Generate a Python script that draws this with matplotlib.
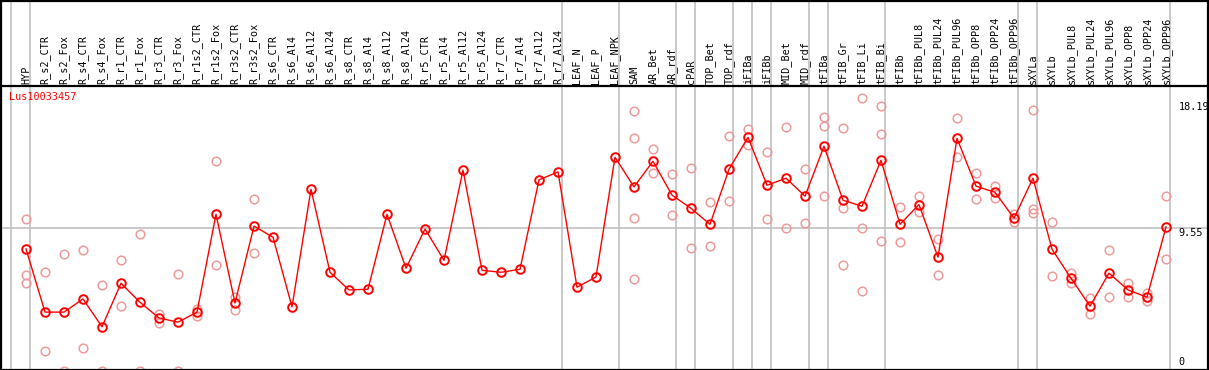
import numpy as np
import matplotlib
matplotlib.use('Agg')
import matplotlib.pyplot as plt
from matplotlib.transforms import blended_transform_factory

# sample names, one column each
samples = ['HYP', 'R_s2_CTR', 'R_s2_Fox', 'R_s4_CTR', 'R_s4_Fox', 'R_r1_CTR', 'R_r1_Fox',
           'R_r3_CTR', 'R_r3_Fox', 'R_r1s2_CTR', 'R_r1s2_Fox', 'R_r3s2_CTR', 'R_r3s2_Fox',
           'R_s6_CTR', 'R_s6_Al4', 'R_s6_Al12', 'R_s6_Al24', 'R_s8_CTR', 'R_s8_Al4',
           'R_s8_Al12', 'R_s8_Al24', 'R_r5_CTR', 'R_r5_Al4', 'R_r5_Al12', 'R_r5_Al24',
           'R_r7_CTR', 'R_r7_Al4', 'R_r7_Al12', 'R_r7_Al24', 'LEAF_N', 'LEAF_P', 'LEAF_NPK',
           'SAM', 'AR_Bet', 'AR_rdf', 'cPAR', 'TOP_Bet', 'TOP_rdf', 'iFIBa', 'iFIBb',
           'MID_Bet', 'MID_rdf', 'tFIBa', 'tFIB_Gr', 'tFIB_Li', 'tFIB_Bi', 'tFIBb',
           'tFIBb_PUL8', 'tFIBb_PUL24', 'tFIBb_PUL96', 'tFIBb_OPP8', 'tFIBb_OPP24',
           'tFIBb_OPP96', 'sXYLa', 'sXYLb', 'sXYLb_PUL8', 'sXYLb_PUL24', 'sXYLb_PUL96',
           'sXYLb_OPP8', 'sXYLb_OPP24', 'sXYLb_OPP96']

# mean expression per sample
means = [8.13, 3.91, 3.91, 4.79, 2.93, 5.84, 4.57, 3.52, 3.24, 3.91, 10.44, 4.52, 9.65,
         8.91, 4.26, 12.11, 6.57, 5.39, 5.44, 10.44, 6.84, 9.46, 7.37, 13.39, 6.70,
         6.57, 6.77, 12.74, 13.27, 5.57, 6.26, 14.25,
         12.27, 13.98, 11.72, 10.84, 9.77, 13.45, 15.58, 12.38,
         12.85, 11.65, 14.98, 11.38, 10.98, 14.05, 9.77,
         11.09, 7.58, 15.51, 12.32, 11.91, 10.18, 12.85, 8.11,
         6.17, 4.31, 6.51, 5.39, 4.91, 9.60]

# individual replicates (only where they differ from the mean)
replicates = [
    [10.11, 6.37, 5.84], [6.57, 1.29], [7.77, 0.0], [8.04, 1.52], [5.70, 0.0],
    [7.37, 4.31], [9.11, 0.0], [3.81, 3.21], [6.44, 0.0], [4.14, 3.67],
    [14.00, 7.04], [4.91, 4.07], [11.46, 7.84],
    [], [], [], [], [], [], [], [], [], [], [], [], [], [], [], [], [], [], [],
    [17.32, 15.51, 10.18, 6.10], [14.79, 13.18], [13.12, 10.38], [13.51, 8.17],
    [11.25, 8.31], [15.65, 11.31], [16.12, 15.05], [14.58, 10.11],
    [16.25, 9.51], [13.45, 9.84], [16.92, 16.32, 11.65], [16.18, 10.84, 7.04],
    [18.19, 9.51, 5.31], [17.65, 15.79, 8.65], [10.91, 8.58],
    [11.65, 10.62], [8.79, 6.37], [16.85, 14.25], [13.18, 11.44], [12.34, 11.51],
    [10.46, 9.91], [17.39, 10.78, 10.55], [9.91, 6.31],
    [6.53, 5.88], [4.84, 3.79], [8.06, 4.91], [5.88, 4.95], [5.21, 4.67], [11.65, 7.44]]

# columns after which a group separator is drawn
group_ends = [-1, 0, 28, 31, 34, 35, 37, 38, 39, 41, 42, 45, 52, 53, 60]

gene = 'Lus10033457'
y_max = 18.19
y_mid = 9.55

W, H = 1209, 370
fig = plt.figure(figsize=(W / 100, H / 100), dpi=100)
ax = fig.add_axes([0, 0, 1, 1])
ax.set_axis_off()

# 19 px per column, first column at x=26 px; 14.98 px per unit, zero at 370.7 px
ax.set_xlim(-26 / 19, (W - 26) / 19)
ax.set_ylim(0.7 / 14.98, 370.7 / 14.98)

mono = 'DejaVu Sans Mono'
fs = 7.3
xy_mix = blended_transform_factory(ax.transData, ax.transAxes)
yx_mix = blended_transform_factory(ax.transAxes, ax.transData)

# separators and midline
for g in group_ends:
    ax.axvline(g + 0.23 if g >= 0 else g + 0.21, color='#c0c0c0', lw=1.2, zorder=1)
ax.axhline(y_mid, color='#c0c0c0', lw=1.2, zorder=1)

# frame and header rule
for yy in [1 - 0.5 / H, 1 - 85.5 / H, 0.5 / H]:
    ax.plot([0, 1], [yy, yy], color='black', lw=1.6, transform=ax.transAxes, zorder=5,
            clip_on=False)
for xx in [1 / W, 1 - 1.5 / W]:
    ax.plot([xx, xx], [0, 1], color='black', lw=1.6, transform=ax.transAxes, zorder=5,
            clip_on=False)

# header labels
for i, name in enumerate(samples):
    ax.text(i, 1 - 83.5 / H, name, rotation=90, ha='center', va='bottom',
            family=mono, fontsize=fs, color='black', transform=xy_mix)

# replicate points
for i, reps in enumerate(replicates):
    if reps:
        ax.plot([i] * len(reps), reps, linestyle='none', marker='o', ms=6.2,
                mfc='none', mec='#ee9a9a', mew=1.1, zorder=2, clip_on=True)

# mean line
x = np.arange(len(samples))
ax.plot(x, means, color='#ff0000', lw=1.0, marker='o', ms=6.2, mfc='none',
        mec='#ff0000', mew=1.4, zorder=3)

# gene name
ax.text(9.5 / W, 1 - 97 / H, gene, color='#ff0000', family=mono, fontsize=fs,
        ha='left', va='center', transform=ax.transAxes)

# value labels on the right
lx = 1178.5 / W
ax.text(lx, y_max - 0.22, f'{y_max:.2f}', family=mono, fontsize=fs, ha='left',
        va='top', transform=yx_mix)
ax.text(lx, y_mid - 0.02, f'{y_mid:.2f}', family=mono, fontsize=fs, ha='left',
        va='top', transform=yx_mix)
ax.text(lx, 0.25, '0', family=mono, fontsize=fs, ha='left', va='bottom',
        transform=yx_mix)

fig.savefig('out.png', dpi=100)
